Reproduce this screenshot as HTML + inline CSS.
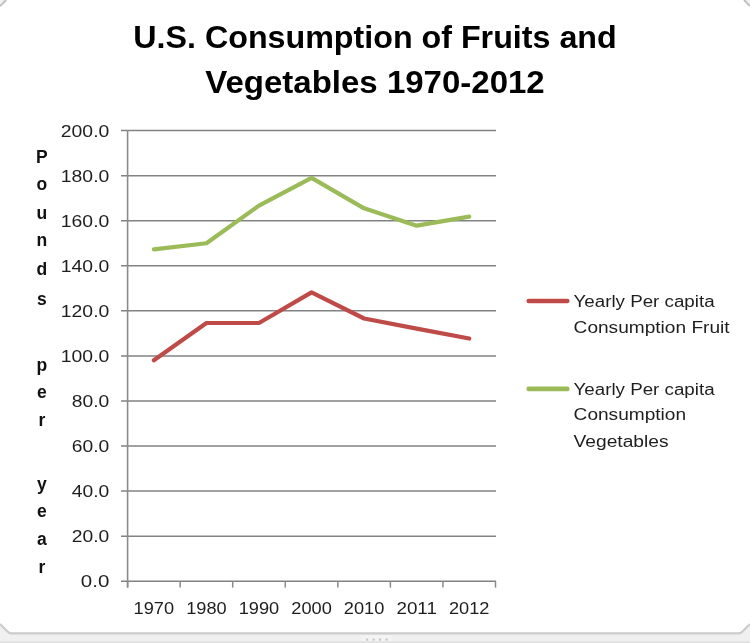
<!DOCTYPE html>
<html><head><meta charset="utf-8"><title>U.S. Consumption of Fruits and Vegetables 1970-2012</title>
<style>
html,body{margin:0;padding:0;background:#fff;width:750px;height:643px;overflow:hidden}
svg{display:block}
.t{font-family:"Liberation Sans",Arial,sans-serif;font-weight:bold;font-size:31.5px;fill:#000}
.n{font-family:"Liberation Sans",Arial,sans-serif;font-size:17px;fill:#1e1e1e}
.x{font-family:"Liberation Sans",Arial,sans-serif;font-size:17px;fill:#1e1e1e}
.a{font-family:"Liberation Sans",Arial,sans-serif;font-weight:bold;font-size:17.5px;fill:#111}
.l{font-family:"Liberation Sans",Arial,sans-serif;font-size:16px;fill:#1e1e1e}
</style></head>
<body>
<svg width="750" height="643" viewBox="0 0 750 643">
<path d="M0 0 H6.2 L0 6.2 Z" fill="#f1f1f1"/>
<path d="M0 6.2 L6.2 0" stroke="#bdbdbd" stroke-width="1.8" fill="none"/>
<path d="M750 0 H744 L750 6 Z" fill="#f1f1f1"/>
<path d="M750 6 L744 0" stroke="#bdbdbd" stroke-width="1.8" fill="none"/>
<path d="M0 624 L7.5 631.5 Q9 633.3 11.5 633.3 H738.5 Q741 633.3 742.5 631.5 L750 624 V643 H0 Z" fill="#f0f0f0"/>
<rect x="0" y="641" width="750" height="2" fill="#e3e3e3"/>
<rect x="361" y="635.5" width="31" height="5.5" fill="#f4f4f4"/>
<rect x="366" y="638.6" width="2.2" height="2" fill="#c6c6c6"/>
<rect x="372.5" y="638.6" width="2.2" height="2" fill="#c6c6c6"/>
<rect x="379" y="638.6" width="2.2" height="2" fill="#c6c6c6"/>
<rect x="385.5" y="638.6" width="2.2" height="2" fill="#c6c6c6"/>
<path d="M0 624 L7.5 631.5 Q9 633.3 11.5 633.3 H738.5 Q741 633.3 742.5 631.5 L750 624" stroke="#cccccc" stroke-width="2.2" fill="none"/>
<line x1="121" y1="581.20" x2="496" y2="581.20" stroke="#828282" stroke-width="1.5"/>
<line x1="121" y1="536.14" x2="496" y2="536.14" stroke="#828282" stroke-width="1.5"/>
<line x1="121" y1="491.08" x2="496" y2="491.08" stroke="#828282" stroke-width="1.5"/>
<line x1="121" y1="446.02" x2="496" y2="446.02" stroke="#828282" stroke-width="1.5"/>
<line x1="121" y1="400.96" x2="496" y2="400.96" stroke="#828282" stroke-width="1.5"/>
<line x1="121" y1="355.90" x2="496" y2="355.90" stroke="#828282" stroke-width="1.5"/>
<line x1="121" y1="310.84" x2="496" y2="310.84" stroke="#828282" stroke-width="1.5"/>
<line x1="121" y1="265.78" x2="496" y2="265.78" stroke="#828282" stroke-width="1.5"/>
<line x1="121" y1="220.72" x2="496" y2="220.72" stroke="#828282" stroke-width="1.5"/>
<line x1="121" y1="175.66" x2="496" y2="175.66" stroke="#828282" stroke-width="1.5"/>
<line x1="121" y1="130.60" x2="496" y2="130.60" stroke="#828282" stroke-width="1.5"/>
<line x1="127.6" y1="129.90" x2="127.6" y2="587.6" stroke="#8a8a8a" stroke-width="1.6"/>
<line x1="127.60" y1="581.20" x2="127.60" y2="587.6" stroke="#8a8a8a" stroke-width="1.5"/>
<line x1="180.16" y1="581.20" x2="180.16" y2="587.6" stroke="#8a8a8a" stroke-width="1.5"/>
<line x1="232.71" y1="581.20" x2="232.71" y2="587.6" stroke="#8a8a8a" stroke-width="1.5"/>
<line x1="285.27" y1="581.20" x2="285.27" y2="587.6" stroke="#8a8a8a" stroke-width="1.5"/>
<line x1="337.83" y1="581.20" x2="337.83" y2="587.6" stroke="#8a8a8a" stroke-width="1.5"/>
<line x1="390.39" y1="581.20" x2="390.39" y2="587.6" stroke="#8a8a8a" stroke-width="1.5"/>
<line x1="442.94" y1="581.20" x2="442.94" y2="587.6" stroke="#8a8a8a" stroke-width="1.5"/>
<line x1="495.50" y1="581.20" x2="495.50" y2="587.6" stroke="#8a8a8a" stroke-width="1.5"/>
<polyline points="153.88,249.33 206.44,243.25 258.99,205.62 311.55,177.91 364.11,208.33 416.66,225.68 469.22,216.66" fill="none" stroke="#9bbb59" stroke-width="4.2" stroke-linejoin="round" stroke-linecap="round"/>
<polyline points="153.88,360.18 206.44,323.01 258.99,323.01 311.55,292.37 364.11,318.50 416.66,328.64 469.22,338.55" fill="none" stroke="#be4b48" stroke-width="4.2" stroke-linejoin="round" stroke-linecap="round"/>
<line x1="528.7" y1="301" x2="567.3" y2="301" stroke="#be4b48" stroke-width="4.6" stroke-linecap="round"/>
<line x1="528.7" y1="388.9" x2="567.3" y2="388.9" stroke="#9bbb59" stroke-width="4.6" stroke-linecap="round"/>
<text x="375" y="47.9" text-anchor="middle" class="t" textLength="483.40" lengthAdjust="spacingAndGlyphs">U.S. Consumption of Fruits and</text>
<text x="375" y="92.8" text-anchor="middle" class="t" textLength="339.40" lengthAdjust="spacingAndGlyphs">Vegetables 1970-2012</text>
<text x="109.30" y="587.40" text-anchor="end" class="n" textLength="28.50" lengthAdjust="spacingAndGlyphs">0.0</text>
<text x="109.30" y="542.34" text-anchor="end" class="n" textLength="37.50" lengthAdjust="spacingAndGlyphs">20.0</text>
<text x="109.30" y="497.28" text-anchor="end" class="n" textLength="37.50" lengthAdjust="spacingAndGlyphs">40.0</text>
<text x="109.30" y="452.22" text-anchor="end" class="n" textLength="37.50" lengthAdjust="spacingAndGlyphs">60.0</text>
<text x="109.30" y="407.16" text-anchor="end" class="n" textLength="37.50" lengthAdjust="spacingAndGlyphs">80.0</text>
<text x="109.30" y="362.10" text-anchor="end" class="n" textLength="48.50" lengthAdjust="spacingAndGlyphs">100.0</text>
<text x="109.30" y="317.04" text-anchor="end" class="n" textLength="48.50" lengthAdjust="spacingAndGlyphs">120.0</text>
<text x="109.30" y="271.98" text-anchor="end" class="n" textLength="48.50" lengthAdjust="spacingAndGlyphs">140.0</text>
<text x="109.30" y="226.92" text-anchor="end" class="n" textLength="48.50" lengthAdjust="spacingAndGlyphs">160.0</text>
<text x="109.30" y="181.86" text-anchor="end" class="n" textLength="48.50" lengthAdjust="spacingAndGlyphs">180.0</text>
<text x="109.30" y="136.80" text-anchor="end" class="n" textLength="48.50" lengthAdjust="spacingAndGlyphs">200.0</text>
<text x="153.88" y="614.4" text-anchor="middle" class="x" textLength="40.50" lengthAdjust="spacingAndGlyphs">1970</text>
<text x="206.44" y="614.4" text-anchor="middle" class="x" textLength="40.50" lengthAdjust="spacingAndGlyphs">1980</text>
<text x="258.99" y="614.4" text-anchor="middle" class="x" textLength="40.50" lengthAdjust="spacingAndGlyphs">1990</text>
<text x="311.55" y="614.4" text-anchor="middle" class="x" textLength="40.50" lengthAdjust="spacingAndGlyphs">2000</text>
<text x="364.11" y="614.4" text-anchor="middle" class="x" textLength="40.50" lengthAdjust="spacingAndGlyphs">2010</text>
<text x="416.66" y="614.4" text-anchor="middle" class="x" textLength="40.50" lengthAdjust="spacingAndGlyphs">2011</text>
<text x="469.22" y="614.4" text-anchor="middle" class="x" textLength="40.50" lengthAdjust="spacingAndGlyphs">2012</text>
<text x="41.8" y="162.80" text-anchor="middle" class="a">P</text>
<text x="41.8" y="190.10" text-anchor="middle" class="a">o</text>
<text x="41.8" y="218.70" text-anchor="middle" class="a">u</text>
<text x="41.8" y="246.00" text-anchor="middle" class="a">n</text>
<text x="41.8" y="275.40" text-anchor="middle" class="a">d</text>
<text x="41.8" y="305.30" text-anchor="middle" class="a">s</text>
<text x="41.8" y="370.90" text-anchor="middle" class="a">p</text>
<text x="41.8" y="398.00" text-anchor="middle" class="a">e</text>
<text x="41.8" y="425.70" text-anchor="middle" class="a">r</text>
<text x="41.8" y="490.10" text-anchor="middle" class="a">y</text>
<text x="41.8" y="516.50" text-anchor="middle" class="a">e</text>
<text x="41.8" y="544.60" text-anchor="middle" class="a">a</text>
<text x="41.8" y="572.60" text-anchor="middle" class="a">r</text>
<text x="573.6" y="307.4" class="l" textLength="141.00" lengthAdjust="spacingAndGlyphs">Yearly Per capita</text>
<text x="573.6" y="332.7" class="l" textLength="156.00" lengthAdjust="spacingAndGlyphs">Consumption Fruit</text>
<text x="573.6" y="395.3" class="l" textLength="141.00" lengthAdjust="spacingAndGlyphs">Yearly Per capita</text>
<text x="573.6" y="420.4" class="l" textLength="112.50" lengthAdjust="spacingAndGlyphs">Consumption</text>
<text x="573.6" y="446.8" class="l" textLength="95.00" lengthAdjust="spacingAndGlyphs">Vegetables</text>
</svg>
</body></html>
